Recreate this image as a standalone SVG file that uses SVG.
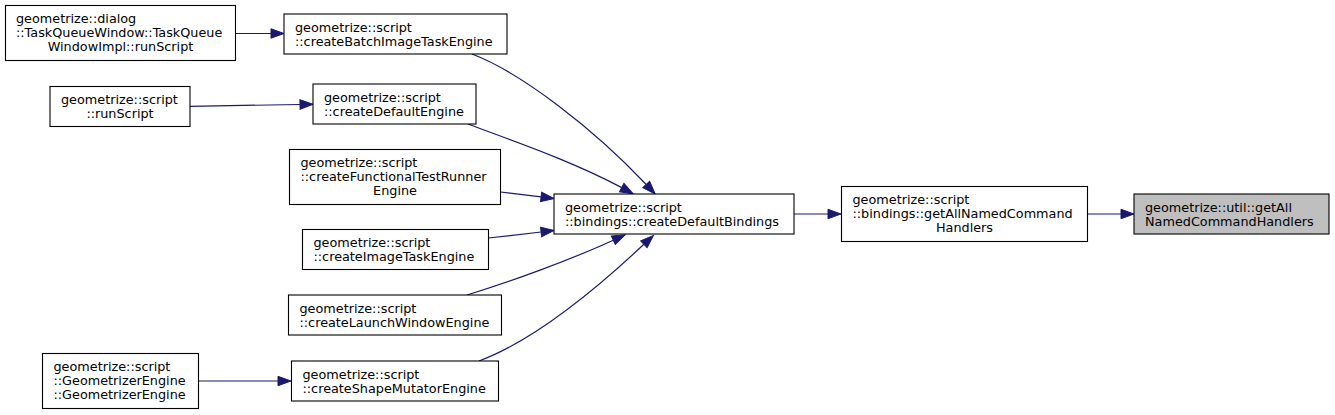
<svg xmlns="http://www.w3.org/2000/svg" width="1335" height="415" viewBox="0 0 1335 415">
<style>
.box{fill:#ffffff;stroke:#000000;stroke-width:1.1}
.hl{fill:#bfbfbf;stroke:#000000;stroke-width:1.1}
text{font-family:"DejaVu Sans",Verdana,sans-serif;font-size:12.8px;fill:#000000}
.m{text-anchor:middle}
.e{fill:none;stroke:#191970;stroke-width:1.2}
</style>
<defs>
<marker id="arr" markerUnits="userSpaceOnUse" markerWidth="16" markerHeight="12" refX="0" refY="5" orient="auto" overflow="visible">
<path d="M0,0.3 L13,5 L0,9.7 z" fill="#191970" stroke="#191970" stroke-width="1"/>
</marker>
</defs>
<rect width="1335" height="415" fill="#ffffff"/>
<g id="connectors">
<path class="e" d="M235.5,33.5 L271,33.5" marker-end="url(#arr)"/>
<path class="e" d="M190,106.3 L300,104.5" marker-end="url(#arr)"/>
<path class="e" d="M198,381 L278,381" marker-end="url(#arr)"/>
<path class="e" d="M472,54 C522,73 595,130 646.2,184.5" marker-end="url(#arr)"/>
<path class="e" d="M468,124 C510,140 570,160 621.7,187.6" marker-end="url(#arr)"/>
<path class="e" d="M500.5,192 L541.1,196.9" marker-end="url(#arr)"/>
<path class="e" d="M488.5,238 L541.1,232" marker-end="url(#arr)"/>
<path class="e" d="M467,295 C510,282 570,260 613.3,240.2" marker-end="url(#arr)"/>
<path class="e" d="M479,361 C530,342 592,293 643.9,244.3" marker-end="url(#arr)"/>
<path class="e" d="M794,214 L828,214" marker-end="url(#arr)"/>
<path class="e" d="M1087.5,214 L1121,214" marker-end="url(#arr)"/>
</g>
<g id="nodeA">
<rect class="box" x="5.5" y="5.5" width="230" height="55"/>
<text x="16" y="23">geometrize::dialog</text>
<text x="16" y="37">::TaskQueueWindow::TaskQueue</text>
<text class="m" x="120.5" y="51">WindowImpl::runScript</text>
</g>
<g id="nodeB">
<rect class="box" x="284" y="14" width="223" height="40"/>
<text x="295" y="31.5">geometrize::script</text>
<text x="295" y="45.5">::createBatchImageTaskEngine</text>
</g>
<g id="nodeC">
<rect class="box" x="50" y="86.5" width="140" height="40"/>
<text x="61" y="104">geometrize::script</text>
<text class="m" x="120" y="118">::runScript</text>
</g>
<g id="nodeD">
<rect class="box" x="313" y="84" width="163" height="40"/>
<text x="324" y="101.5">geometrize::script</text>
<text x="324" y="115.5">::createDefaultEngine</text>
</g>
<g id="nodeE">
<rect class="box" x="289.5" y="149.5" width="211" height="55"/>
<text x="300.5" y="167">geometrize::script</text>
<text x="300.5" y="181">::createFunctionalTestRunner</text>
<text class="m" x="395" y="195">Engine</text>
</g>
<g id="nodeF">
<rect class="box" x="302.5" y="229.5" width="186" height="40"/>
<text x="313.5" y="247">geometrize::script</text>
<text x="313.5" y="261">::createImageTaskEngine</text>
</g>
<g id="nodeG">
<rect class="box" x="288.5" y="295" width="213" height="40"/>
<text x="299.5" y="312.5">geometrize::script</text>
<text x="299.5" y="326.5">::createLaunchWindowEngine</text>
</g>
<g id="nodeH">
<rect class="box" x="42.5" y="353.5" width="156" height="55"/>
<text x="53.5" y="371">geometrize::script</text>
<text x="53.5" y="385">::GeometrizerEngine</text>
<text x="53.5" y="399">::GeometrizerEngine</text>
</g>
<g id="nodeI">
<rect class="box" x="291.5" y="361" width="207" height="40"/>
<text x="302.5" y="378.5">geometrize::script</text>
<text x="302.5" y="392.5">::createShapeMutatorEngine</text>
</g>
<g id="nodeJ">
<rect class="box" x="554" y="194" width="240" height="40"/>
<text x="565" y="211.5">geometrize::script</text>
<text x="565" y="225.5">::bindings::createDefaultBindings</text>
</g>
<g id="nodeK">
<rect class="box" x="841.5" y="186.5" width="246" height="55"/>
<text x="852.5" y="204">geometrize::script</text>
<text x="852.5" y="218">::bindings::getAllNamedCommand</text>
<text class="m" x="964.5" y="232">Handlers</text>
</g>
<g id="nodeL">
<rect class="hl" x="1134" y="194" width="195" height="40"/>
<text x="1145" y="211.5">geometrize::util::getAll</text>
<text x="1145" y="225.5">NamedCommandHandlers</text>
</g>
</svg>
